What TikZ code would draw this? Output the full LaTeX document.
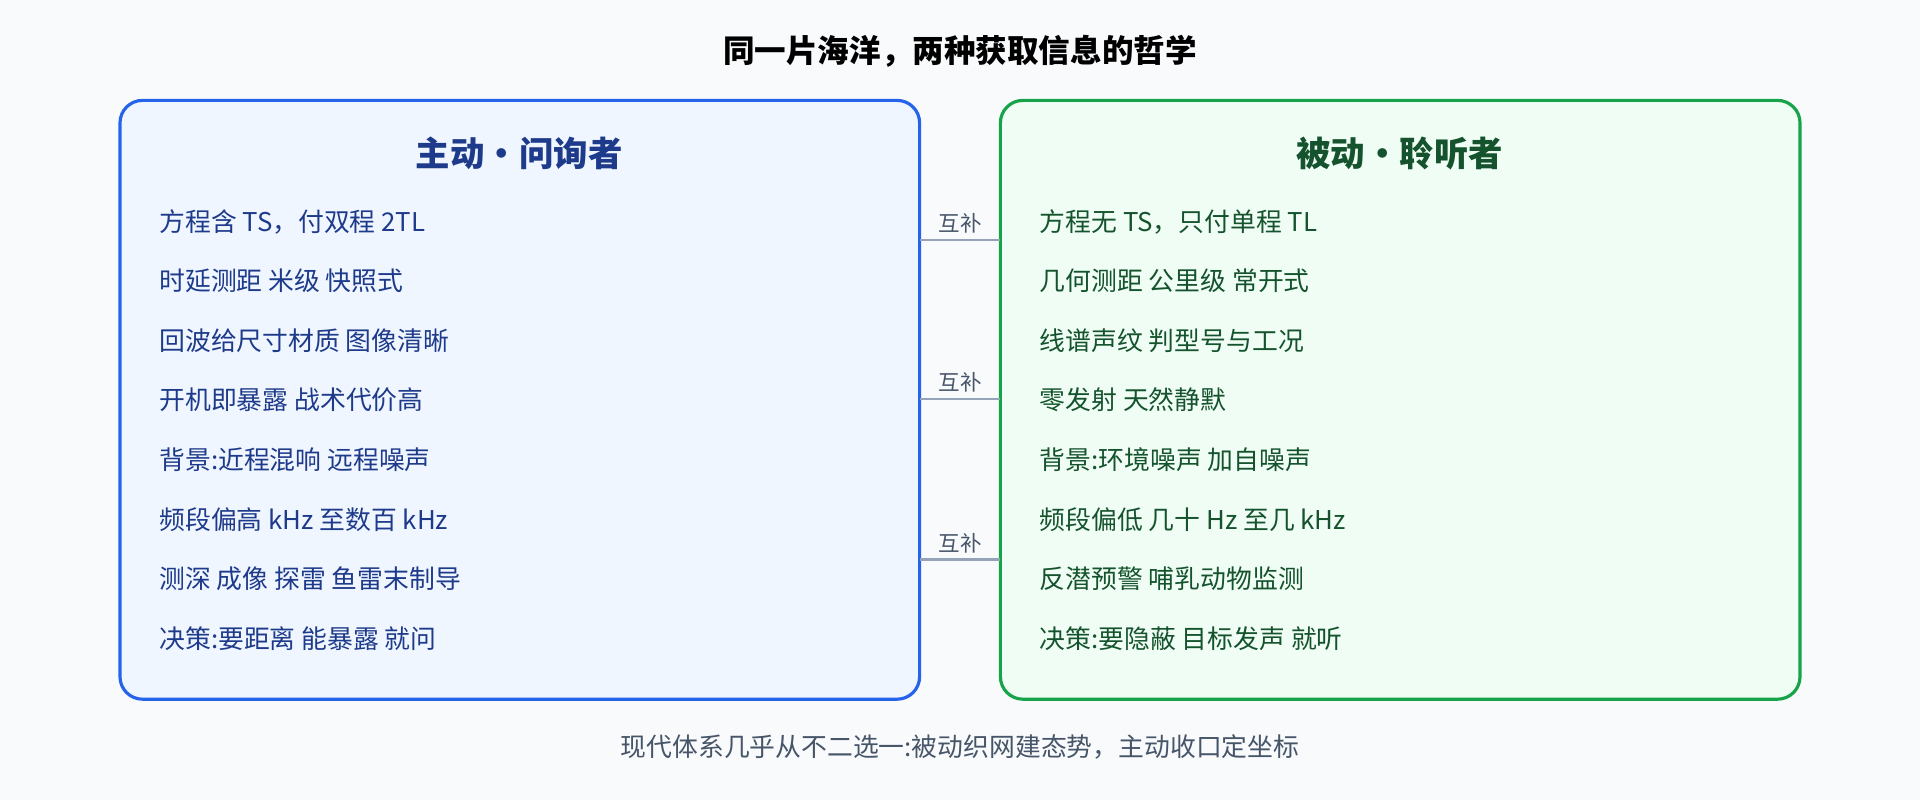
\documentclass[tikz,border=0pt]{standalone}
\usepackage{fontspec}
\setmainfont{Noto Sans CJK SC}
\usetikzlibrary{positioning,calc}
\definecolor{bgcol}{HTML}{F8FAFC}
\definecolor{actline}{HTML}{2563EB}
\definecolor{actfill}{HTML}{EFF6FF}
\definecolor{acttext}{HTML}{1E3A8A}
\definecolor{pasline}{HTML}{16A34A}
\definecolor{pasfill}{HTML}{F0FDF4}
\definecolor{pastext}{HTML}{14532D}
\definecolor{linkcol}{HTML}{94A3B8}
\definecolor{mutedtext}{HTML}{475569}
\tikzset{
  panel/.style={draw=#1,line width=2.2pt,rounded corners=5.5mm},
  heading/.style={font=\fontsize{24}{28}\selectfont\bfseries,text=#1},
  item/.style={anchor=west,inner sep=0pt,font=\fontsize{18}{22}\selectfont,text=#1},
  link/.style={draw=linkcol,line width=1.6pt},
  linklabel/.style={font=\fontsize{15}{18}\selectfont,text=mutedtext}
}
\begin{document}
\begin{tikzpicture}[x=0.03cm,y=-0.03cm]
  % background and frame
  \fill[bgcol] (0,0) rectangle (1568,653);
  \node[font=\fontsize{22}{26}\selectfont\bfseries,text=black] (title) at (784,42) {同一片海洋，两种获取信息的哲学};
  %
  \draw[panel=actline,fill=actfill] (98,82) rectangle (751,571);
  \draw[panel=pasline,fill=pasfill] (817,82) rectangle (1470,571);
  \node[heading=acttext] (acthead) at (424,125) {主动•问询者};
  \node[heading=pastext] (pashead) at (1143,125) {被动•聆听者};
  % items
  \foreach \txt [count=\i] in {方程含 TS，付双程 2TL,时延测距 米级 快照式,回波给尺寸材质 图像清晰,开机即暴露 战术代价高,背景:近程混响 远程噪声,频段偏高 kHz 至数百 kHz,测深 成像 探雷 鱼雷末制导,决策:要距离 能暴露 就问}
    \node[item=acttext] (act\i) at (130,{181+48.6*(\i-1)}) {\txt};
  \foreach \txt [count=\i] in {方程无 TS，只付单程 TL,几何测距 公里级 常开式,线谱声纹 判型号与工况,零发射 天然静默,背景:环境噪声 加自噪声,频段偏低 几十 Hz 至几 kHz,反潜预警 哺乳动物监测,决策:要隐蔽 目标发声 就听}
    \node[item=pastext] (pas\i) at (849,{181+48.6*(\i-1)}) {\txt};
  % links
  \foreach \y/\n in {196/a,326/b,457/c}{
    \coordinate (l\n) at (751,\y);
    \coordinate (r\n) at (817,\y);
    \draw[link] (l\n) -- (r\n);
    \node[linklabel,above=1pt] (lab\n) at ($(l\n)!0.5!(r\n)$) {互补};
  }
  \node[font=\fontsize{18}{22}\selectfont,text=mutedtext] (foot) at (784,610) {现代体系几乎从不二选一:被动织网建态势，主动收口定坐标};
\end{tikzpicture}
\end{document}
